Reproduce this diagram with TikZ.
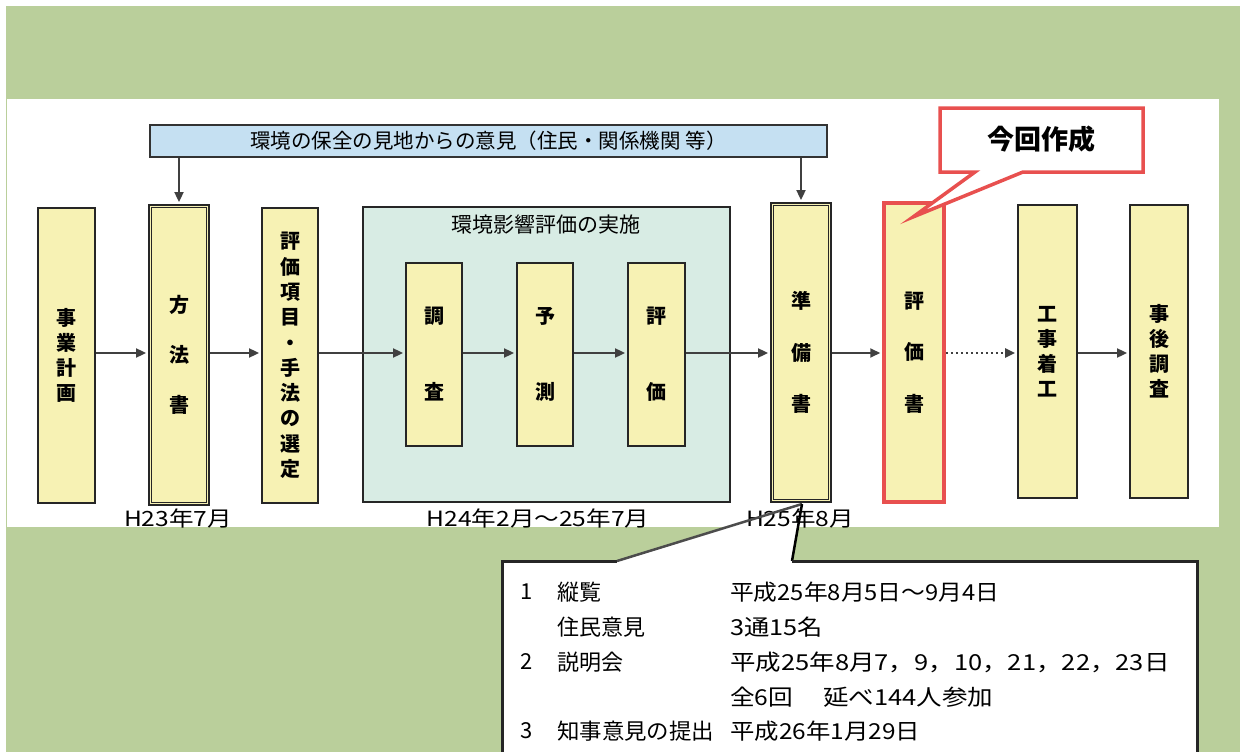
\documentclass[tikz,border=0pt]{standalone}
\usepackage{fontspec}
\setmainfont{Noto Sans CJK JP}
\usetikzlibrary{arrows.meta}
\definecolor{bggreen}{HTML}{BACF9B}
\definecolor{boxyellow}{HTML}{F7F2B4}
\definecolor{paneltint}{HTML}{D8ECE4}
\definecolor{bannerblue}{HTML}{C5E0F2}
\definecolor{callred}{HTML}{E8504F}
\newcommand{\widen}[2][1.13]{\scalebox{#1}[1]{#2}}
\tikzset{
  ybox/.style={draw=black!85, line width=1.8pt, fill=boxyellow, inner sep=0pt, align=center,
    font=\fontsize{20}{25}\selectfont\bfseries},
  arr/.style={draw=black!75, line width=1.8pt, -{Triangle[length=10pt,width=9pt]}, shorten >=2pt},
  lbl/.style={font=\fontsize{21}{22}\selectfont, inner sep=0pt},
  info/.style={font=\fontsize{22}{24}\selectfont, anchor=west, inner sep=0pt},
}
\begin{document}
\begin{tikzpicture}[x=1pt,y=-1pt]
\useasboundingbox (0,0) rectangle (1243,752);
% background
\fill[bggreen] (6,6) rectangle (1240,752);
\fill[white] (7,99) rectangle (1219,527);

% banner
\node[draw=black!80, line width=1.5pt, fill=bannerblue, minimum width=677pt, minimum height=32pt,
  inner sep=0pt, font=\fontsize{20.5}{22}\selectfont] (banner) at (488.5,141)
  {環境の保全の見地からの意見（住民・関係機関 等）};

% row coordinate
\coordinate (row) at (0,353);

% boxes
\node[ybox, minimum width=57pt, minimum height=295pt] (jigyo) at (66.5,355.5) {事\\業\\計\\画};
\node[ybox, minimum width=60pt, minimum height=300pt, font=\fontsize{20}{50}\selectfont\bfseries] (hoho) at (179,355) {方\\法\\書};
\draw[black!85, line width=1.2pt] ([shift={(3.5,3.5)}]hoho.north west) rectangle ([shift={(-3.5,-3.5)}]hoho.south east);
\node[ybox, minimum width=56pt, minimum height=295pt, font=\fontsize{20}{25.3}\selectfont\bfseries] (sentei) at (290,355.5)
  {評\\価\\項\\目\\・\\手\\法\\の\\選\\定};

\node[draw=black!85, line width=1.5pt, fill=paneltint, minimum width=367pt, minimum height=295pt, inner sep=0pt] (panel) at (546.5,354.5) {};
\node[font=\fontsize{21}{22}\selectfont, inner sep=0pt] (ptitle) at (546,225) {環境影響評価の実施};

\node[ybox, minimum width=56pt, minimum height=183pt, font=\fontsize{20}{76}\selectfont\bfseries] (chosa) at (434,354.5) {調\\査};
\node[ybox, minimum width=56pt, minimum height=183pt, font=\fontsize{20}{76}\selectfont\bfseries] (yosoku) at (545,354.5) {予\\測};
\node[ybox, minimum width=57pt, minimum height=183pt, font=\fontsize{20}{76}\selectfont\bfseries] (hyoka) at (656.5,354.5) {評\\価};

\node[ybox, minimum width=60pt, minimum height=299pt, font=\fontsize{20}{51.5}\selectfont\bfseries] (junbi) at (801,352.5) {準\\備\\書};
\draw[black!85, line width=1.2pt] ([shift={(3.5,3.5)}]junbi.north west) rectangle ([shift={(-3.5,-3.5)}]junbi.south east);

\node[ybox, draw=callred, line width=3.5pt, minimum width=60pt, minimum height=299pt, font=\fontsize{20}{51.5}\selectfont\bfseries] (hyokasho) at (914,352.5) {評\\価\\書};

\node[ybox, minimum width=59pt, minimum height=293pt] (chakko) at (1047.5,351.5) {工\\事\\着\\工};
\node[ybox, minimum width=58pt, minimum height=293pt] (jigo) at (1159,351.5) {事\\後\\調\\査};

% arrows
\draw[arr] (banner.south -| hoho.north) -- (hoho.north);
\draw[arr] (banner.south -| junbi.north) -- (junbi.north);
\draw[arr] (jigyo.east |- row) -- (hoho.west |- row);
\draw[arr] (hoho.east |- row) -- (sentei.west |- row);
\draw[arr] (sentei.east |- row) -- (chosa.west |- row);
\draw[arr] (chosa.east |- row) -- (yosoku.west |- row);
\draw[arr] (yosoku.east |- row) -- (hyoka.west |- row);
\draw[arr] (hyoka.east |- row) -- (junbi.west |- row);
\draw[arr] (junbi.east |- row) -- (hyokasho.west |- row);
\draw[draw=black!75, line width=2.5pt, dash pattern=on 2.5pt off 2.5pt, -{Triangle[length=10pt,width=9pt]}, shorten >=2pt]
  (hyokasho.east |- row) -- (chakko.west |- row);
\draw[arr] (chakko.east |- row) -- (jigo.west |- row);

% date labels
\node[lbl] (d1) at (178,518) {\widen[1.17]{H23年7月}};
\node[lbl] (d2) at (538,518) {\widen[1.17]{H24年2月～25年7月}};

% callout: 今回作成
\coordinate (ktip) at (913,217);
\draw[callred, line width=3.5pt, fill=white, line join=miter]
  (940,108) -- (1143,108) -- (1143,172) -- (1023,172) -- (ktip) -- (975,172) -- (940,172) -- cycle;
\node[font=\fontsize{27}{30}\selectfont\bfseries, inner sep=0pt] (konkai) at (1041,139) {今回作成};

% bottom callout
\coordinate (btip) at (802,504);
\fill[white] (502,561) -- (617,561) -- (btip) -- (792,561) -- (1197,561) -- (1197,760) -- (502,760) -- cycle;
\node[lbl] (d3) at (800,518) {\widen[1.17]{H25年8月}};
\draw[black!85, line width=3pt] (502,760) -- (502,561) -- (617,561);
\draw[black!70, line width=2.5pt] (617,561) -- (btip);
\draw[black, line width=2.5pt] (btip) -- (792,561);
\draw[black!85, line width=3pt] (792,561) -- (1197,561) -- (1197,760);

\node[info] (n1) at (520,592) {1};
\node[info] (t1) at (557,592) {縦覧};
\node[info] (v1) at (730,592) {\widen[1.08]{平成25年8月5日～9月4日}};
\node[info] (t2) at (557,627) {住民意見};
\node[info] (v2) at (730,627) {\widen[1.15]{3通15名}};
\node[info] (n3) at (520,662) {2};
\node[info] (t3) at (557,662) {説明会};
\node[info] (v3) at (730,662) {\widen[1.16]{平成25年8月7，9，10，21，22，23日}};
\node[info] (v4a) at (730,697) {\widen[1.12]{全6回}};
\node[info] (v4b) at (823,697) {\widen[1.16]{延べ144人参加}};
\node[info] (n5) at (520,731) {3};
\node[info] (t5) at (557,731) {\widen[1.02]{知事意見の提出}};
\node[info] (v5) at (730,731) {\widen[1.11]{平成26年1月29日}};
\end{tikzpicture}
\end{document}
